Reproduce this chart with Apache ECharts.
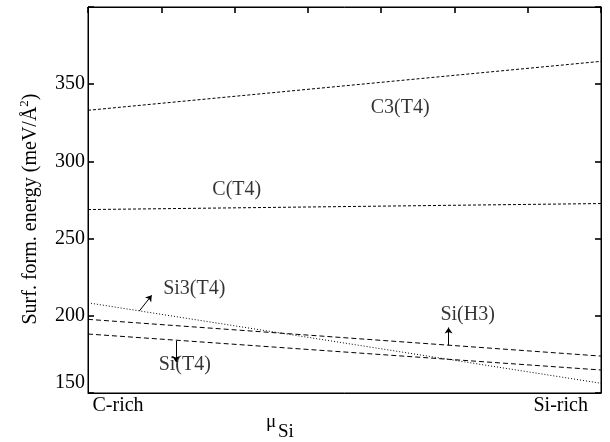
<!DOCTYPE html>
<html>
<head>
<meta charset="utf-8">
<script src="https://cdn.jsdelivr.net/npm/echarts@6/dist/echarts.min.js"></script>
<style>
html,body{margin:0;padding:0;background:#fff;}
#chart{width:610px;height:442px;}
</style>
</head>
<body>
<div id="chart"></div>
<script>
// ---- data ----
const xs = [0, 7];                      // C-rich .. Si-rich (chemical potential, arbitrary units)
const c3T4  = [333.1, 364.8];
const cT4   = [268.8, 272.7];
const si3T4 = [208.4, 156.3];
const siH3  = [197.7, 173.9];
const siT4  = [188.2, 164.9];

const yMin = 150, yMax = 400, yStep = 50;
const xMin = 0, xMax = 7, xStep = 1;
const xEndLabels = ['C-rich', 'Si-rich'];
const xEndLabelPos = [0.41, 6.45];

const curveNames = ['C3(T4)', 'C(T4)', 'Si3(T4)', 'Si(H3)', 'Si(T4)'];
const curveLabelX = [4.26, 2.03, 1.45, 5.18, 1.32];
const curveLabelY = [334.7, 281.9, 217.8, 201.0, 168.6];

const arrowFrom = [[0.70, 203.1], [1.20, 183.7], [4.92, 180.9]];
const arrowTo   = [[0.87, 213.3], [1.20, 170.1], [4.92, 192.4]];

// ---- chart ----
const FONT = '"Liberation Serif", "DejaVu Serif", serif';
const chart = echarts.init(document.getElementById('chart'), null, {renderer: 'canvas'});

function pts(ys) { return xs.map((x, i) => [x, ys[i]]); }
function lineSeries(name, ys, dash) {
  return {
    name: name, type: 'line', data: pts(ys), symbol: 'none', silent: true,
    lineStyle: {color: '#000', width: 1, type: dash}
  };
}

const axisLineStyle = {color: '#000', width: 1};
const tickStyle = {show: true, inside: true, length: 6, lineStyle: {color: '#000', width: 1.6}};

chart.setOption({
  animation: false,
  backgroundColor: '#fff',
  grid: {left: 88, right: 9, top: 7, bottom: 49, containLabel: false,
         show: true, borderColor: '#000', borderWidth: 1, backgroundColor: 'transparent'},
  xAxis: [
    {
      type: 'value', position: 'bottom', min: xMin, max: xMax, interval: xStep,
      axisLine: {show: true, onZero: false, lineStyle: axisLineStyle},
      axisTick: {show: false},
      splitLine: {show: false},
      axisLabel: {
        show: true, customValues: xEndLabelPos, margin: 3,
        fontFamily: FONT, fontSize: 20, color: '#000',
        formatter: function (v) {
          let best = 0, d = Infinity;
          xEndLabelPos.forEach((p, i) => { if (Math.abs(p - v) < d) { d = Math.abs(p - v); best = i; } });
          return xEndLabels[best];
        }
      }
    },
    {
      type: 'value', position: 'top', min: xMin, max: xMax, interval: xStep,
      axisLine: {show: true, onZero: false, lineStyle: axisLineStyle},
      axisTick: tickStyle,
      axisLabel: {show: false},
      splitLine: {show: false}
    }
  ],
  yAxis: [
    {
      type: 'value', position: 'left', min: yMin, max: yMax, interval: yStep,
      axisLine: {show: true, onZero: false, lineStyle: axisLineStyle},
      axisTick: tickStyle,
      splitLine: {show: false},
      axisLabel: {
        show: true, margin: 3, fontFamily: FONT, fontSize: 20, color: '#000',
        verticalAlignMinLabel: 'bottom',
        formatter: v => (v === yMax ? '' : String(v))
      }
    },
    {
      type: 'value', position: 'right', min: yMin, max: yMax, interval: yStep,
      axisLine: {show: true, onZero: false, lineStyle: axisLineStyle},
      axisTick: tickStyle,
      splitLine: {show: false},
      axisLabel: {show: false}
    }
  ],
  graphic: [
    {
      type: 'text', x: 31, y: 209, rotation: Math.PI / 2,
      style: {
        text: '{a|Surf. form. energy (meV/Å}{s|2}{a|)}',
        align: 'center', verticalAlign: 'middle',
        rich: {
          a: {fontFamily: FONT, fontSize: 20, fill: '#000'},
          s: {fontFamily: FONT, fontSize: 13, fill: '#000', padding: [0, 0, 12, 0]}
        }
      }
    },
    {
      type: 'text', x: 266, y: 413,
      style: {text: 'μ', fontFamily: FONT, fontSize: 19, fill: '#000'}
    },
    {
      type: 'text', x: 278, y: 423,
      style: {text: 'Si', fontFamily: FONT, fontSize: 19, fill: '#000'}
    }
  ],
  series: [
    lineSeries('C3(T4)', c3T4, [3, 2]),
    lineSeries('C(T4)', cT4, [3, 2]),
    lineSeries('Si3(T4)', si3T4, [1, 2]),
    lineSeries('Si(H3)', siH3, [5, 3]),
    lineSeries('Si(T4)', siT4, [5, 3]),
    {
      type: 'scatter', silent: true, symbolSize: 1,
      itemStyle: {color: 'rgba(0,0,0,0)'},
      data: curveNames.map((n, i) => ({name: n, value: [curveLabelX[i], curveLabelY[i]]})),
      label: {
        show: true, position: 'inside', formatter: p => p.name,
        fontFamily: FONT, fontSize: 20, color: '#000'
      }
    },
    {
      type: 'lines', coordinateSystem: 'cartesian2d', silent: true,
      symbol: ['none', 'arrow'], symbolSize: 6,
      lineStyle: {color: '#000', width: 1, opacity: 1},
      data: arrowFrom.map((f, i) => ({coords: [f, arrowTo[i]]}))
    }
  ]
});
</script>
</body>
</html>
